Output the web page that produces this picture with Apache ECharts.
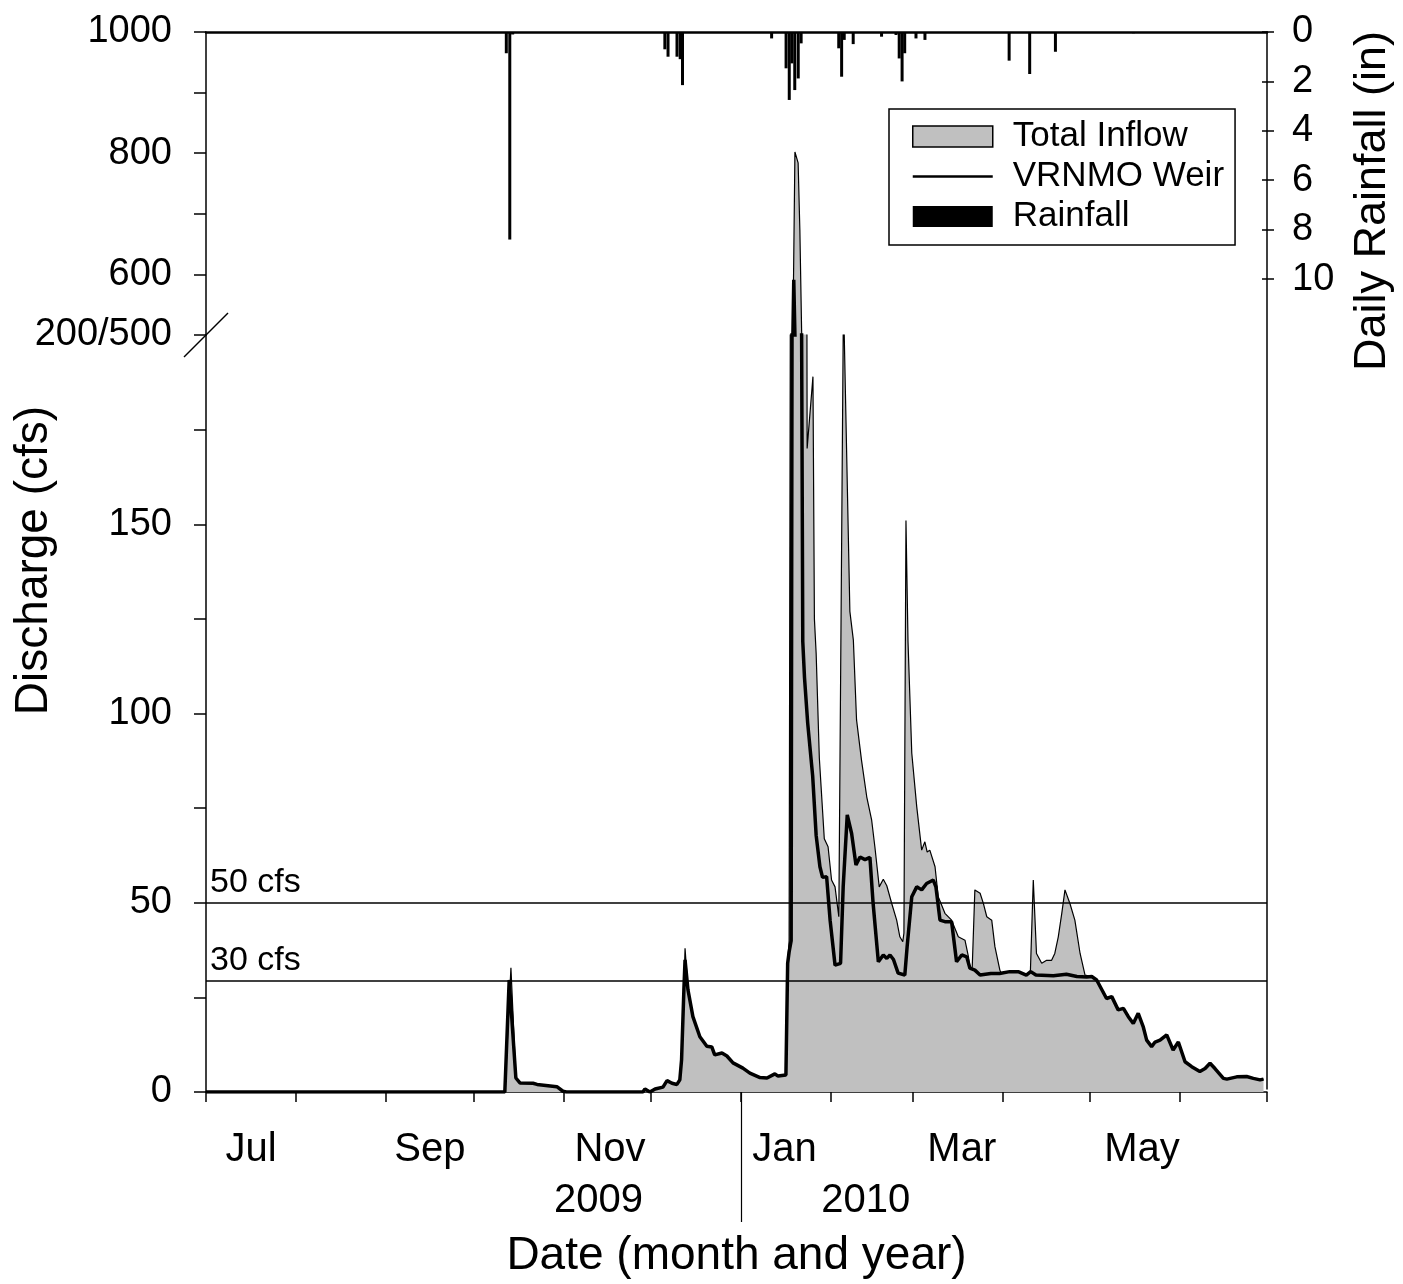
<!DOCTYPE html>
<html><head><meta charset="utf-8">
<script src="https://cdn.jsdelivr.net/npm/echarts@6/dist/echarts.min.js"></script>
<style>html,body{margin:0;padding:0;background:#fff}#c{width:1403px;height:1284px}</style>
</head><body><div id="c"></div>
<script>
// x values are days since 2009-07-01
const monthTickDays = [0,31,62,92,123,153,184,215,243,274,304,335,365];
const monthLabels = ['Jul','Sep','Nov','Jan','Mar','May'];
const monthLabelDays = [15.5,77,139,199,260,322];
const yearLabels = ['2009','2010'];
const yearLabelDays = [135,227];
const yearSplitDays = [184];
const rainTicks = [0,2,4,6,8,10];
const refLines = [50, 29.4];
const refLabels = ['50 cfs','30 cfs'];

const totalInflow = [
[0,0],[102.8,0],[104.9,32.8],[106.6,3.7],[108,2.4],[112.5,2.3],[113.9,2.0],[120.7,1.4],[122.8,0.2],[124,0],
[150.3,0],[151,0.8],[152.7,0],[154.5,0.8],[157.2,1.3],[158.6,3],[160.3,2.3],[162,2],[163,3.2],[163.6,8.5],[164.4,27],[164.8,38],
[165.8,27],[167.5,19.9],[169.9,14.6],[172.3,12.1],[174,11.9],[175,9.8],[177.5,10.3],[179.2,9.5],[181.3,7.7],[184.7,6.3],
[187.1,5],[190.6,3.8],[193,3.7],[195.7,4.8],[196.8,4.2],[199.5,4.5],
[200.1,34],[200.6,40],[201.0,200],[201.9,500],[202.6,802],[203.7,784],[204.3,673],[204.9,508],[205.8,350],[206.6,260],
[206.8,170],[208.8,189],[209.3,125],[209.9,115.9],[211,88.2],[212.7,66.9],[214,64.8],[215.2,56],[216.4,54.2],[217.7,46.3],[218.3,46.3],
[219.3,210],[221.5,127],[222.7,119.4],[223.8,98.3],[225.5,87.7],[227.3,78],[229,71.8],[230.1,64.8],[231.6,54.2],[233,56.2],
[234.2,54.5],[235.9,49.8],[237.6,45.4],[238.7,41],[239.7,39.7],[240.1,42],[240.8,151],[241.5,119],[242.8,89.5],[244.5,75.4],
[246.2,63.9],[247.3,66.1],[248.1,63.4],[249,63.9],[250.8,59.5],[251.9,51.6],[254.2,47.2],[256.5,45.4],[258.8,41],[261.1,40.1],
[262.3,35.7],[262.8,32.7],[263.6,33],[264.5,53.4],[266.3,52.5],[267.4,49.9],[268.6,46.3],[270.3,45.4],[271.4,38.4],[273.1,32.2],
[273.6,31.3],[276.5,31.8],[279.4,31.8],[282.2,30.9],[283.6,31.8],[284.6,56],[285.7,36.6],[287.5,34],[289.2,34.8],[290.9,34.8],
[292,36.6],[293.2,41],[294.4,47.2],[295.5,53.4],[297.2,49.8],[298.9,45.4],[300.7,36.6],[302.4,30.9],[303,30.4],[304.7,30.5],
[306.4,29.6],[309.8,24.7],[311.6,25.2],[313.8,21.7],[315.6,22.1],[317.3,19.9],[319,18.1],[320.7,20.8],[322.4,17.3],[323.6,13.7],
[325.3,12],[326.5,13.2],[328.2,13.7],[330.5,15.1],[332.7,11.1],[334.5,13.2],[336.8,8],[339.1,6.7],[341.9,5.4],[343.7,6.2],
[345.4,7.6],[347.1,6.2],[350,3.6],[351.2,3.4],[354.6,4],[358,4.1],[360.3,3.6],[362.6,3.2],[363.8,3.4]
];

const vrnmoWeir = [
[0,0],[102.8,0],[104.3,29.6],[106.6,3.7],[108,2.4],[112.5,2.3],[113.9,2.0],[120.7,1.4],[122.8,0.2],[124,0],
[150.3,0],[151,0.8],[152.7,0],[154.5,0.8],[157.2,1.3],[158.6,3],[160.3,2.3],[162,2],[163,3.2],[163.6,8.5],[164.4,27],[164.8,34.9],
[165.8,27],[167.5,19.9],[169.9,14.6],[172.3,12.1],[174,11.9],[175,9.8],[177.5,10.3],[179.2,9.5],[181.3,7.7],[184.7,6.3],
[187.1,5],[190.6,3.8],[193,3.7],[195.7,4.8],[196.8,4.2],[199.5,4.5],
[200.1,34],[200.6,37],[201.3,40],[201.6,200],[201.9,500],[202.2,591],[202.6,500],[204.9,200],[205.3,119],[205.9,109.4],
[207,97.4],[208.7,83.5],[209.9,67.8],[211.2,59.5],[212.1,56.7],[213.5,56.9],[214.7,45.4],[216.4,33.5],[218.3,34],[219.2,54.2],
[220.6,73.2],[222.1,68.3],[223.6,60],[225,62.1],[226.7,61.4],[228.4,62],[229.5,49.8],[231.3,34.4],[233,36.2],[234.2,35.3],
[235.3,36.2],[236.5,35],[238.1,31.4],[240.4,30.9],[241.2,38.4],[242.8,51.6],[244.5,54.2],[246.2,53.4],[247.9,55.1],[250.2,56],
[251.1,54.2],[252.5,45.4],[254.2,45],[256.5,45],[258.2,34.4],[260,36.2],[261.7,35.7],[262.8,32.7],[264.5,32.2],[266.3,30.9],
[270,31.3],[273,31.3],[276.5,31.8],[279.4,31.8],[282.2,30.9],[283.7,31.8],[285.5,30.9],[291.5,30.7],[296,31.1],[299.6,30.5],
[303,30.4],[304.7,30.5],[306.4,29.6],[309.8,24.7],[311.6,25.2],[313.8,21.7],[315.6,22.1],[317.3,19.9],[319,18.1],[320.7,20.8],
[322.4,17.3],[323.6,13.7],[325.3,12],[326.5,13.2],[328.2,13.7],[330.5,15.1],[332.7,11.1],[334.5,13.2],[336.8,8],[339.1,6.7],
[341.9,5.4],[343.7,6.2],[345.4,7.6],[347.1,6.2],[350,3.6],[351.2,3.4],[354.6,4],[358,4.1],[360.3,3.6],[362.6,3.2],[363.8,3.4]
];

const rainDays = [103.8,105,106,158.6,159.7,162.8,163.9,164.7,195.5,200.5,201.6,202.5,203.5,204.7,205.7,218.7,219.7,220.6,223.7,233.5,238.5,239.6,240.6,241.5,245.4,248.5,277.6,284.7,293.6,320.6];
const rainInches = [0.86,8.4,0.1,0.7,1.0,1.0,1.1,2.15,0.26,1.47,2.75,1.27,2.35,1.88,0.46,0.66,1.81,0.32,0.49,0.19,0.12,1.07,2.0,0.86,0.26,0.32,1.16,1.7,0.8,0.05];

const FONT = "'Liberation Sans', Arial, sans-serif";
const rainfall = rainDays.map((d,i)=>[d, rainInches[i]]);

const chart = echarts.init(document.getElementById('c'), null, {renderer:'canvas'});
const G = {left:206, width:1061};
const axisLineStyle = {color:'#000', width:1.5};
const hiddenX = (gi)=>({type:'value', gridIndex:gi, min:0, max:365, show:false});

const option = {
  backgroundColor:'#fff',
  animation:false,
  textStyle:{fontFamily:FONT, color:'#000'},
  grid:[
    {left:G.left, width:G.width, top:32, height:303},
    {left:G.left, width:G.width, top:335, height:757},
    {left:G.left, width:G.width, top:32, height:338},
    {left:G.left, width:G.width, top:32, height:1060}
  ],
  legend:{
    orient:'vertical', left:889, top:109,
    padding:[10,11,11,23], itemWidth:80, itemHeight:21, itemGap:5,
    borderColor:'#000', borderWidth:1.5, backgroundColor:'#fff',
    selectedMode:false,
    textStyle:{fontFamily:FONT, fontSize:35, lineHeight:35, color:'#000', padding:[0,0,0,15]},
    data:[
      {name:'Total Inflow', icon:'rect', itemStyle:{color:'#c0c0c0', borderColor:'#000', borderWidth:1.5}},
      {name:'VRNMO Weir', icon:'path://M0,0H80V2.6H0Z', itemStyle:{color:'#000', borderWidth:0}},
      {name:'Rainfall', icon:'rect', itemStyle:{color:'#000', borderWidth:0}}
    ]
  },
  xAxis:[
    hiddenX(0),
    {type:'value', gridIndex:1, min:0, max:365, position:'bottom',
      axisLine:{show:true, onZero:false, lineStyle:axisLineStyle},
      axisTick:{show:true, customValues:monthTickDays, length:10, inside:false, lineStyle:{color:'#000', width:1.5}},
      axisLabel:{show:true, customValues:monthLabelDays, margin:38, fontSize:40, fontFamily:FONT, color:'#000',
        formatter:(v)=>{const i=monthLabelDays.indexOf(v); return i>=0?monthLabels[i]:'';}},
      splitLine:{show:false}},
    {type:'value', gridIndex:1, min:0, max:365, position:'bottom', offset:0,
      axisLine:{show:false, onZero:false},
      axisTick:{show:true, customValues:yearSplitDays, length:130, inside:false, lineStyle:{color:'#000', width:1.2}},
      axisLabel:{show:true, customValues:yearLabelDays, margin:89, fontSize:40, fontFamily:FONT, color:'#000',
        formatter:(v)=>{const i=yearLabelDays.indexOf(v); return i>=0?yearLabels[i]:'';}},
      splitLine:{show:false}},
    hiddenX(2),
    {type:'value', gridIndex:3, min:0, max:365, position:'top',
      axisLine:{show:true, onZero:false, lineStyle:{color:'#000', width:2.5}}, axisTick:{show:false}, axisLabel:{show:false}, splitLine:{show:false}},
    {type:'value', gridIndex:3, min:0, max:365, position:'bottom',
      name:'Date (month and year)', nameLocation:'middle', nameGap:144,
      nameTextStyle:{fontSize:46, fontFamily:FONT, color:'#000'},
      axisLine:{show:false, onZero:false}, axisTick:{show:false}, axisLabel:{show:false}, splitLine:{show:false}}
  ],
  yAxis:[
    {type:'value', gridIndex:0, min:500, max:1000, interval:100, position:'left',
      axisLine:{show:true, onZero:false, lineStyle:axisLineStyle},
      axisTick:{show:true, length:12, lineStyle:{color:'#000', width:1.5}},
      axisLabel:{margin:34, fontSize:38, fontFamily:FONT, color:'#000',
        formatter:(v)=> (v!==500 && v%200===0) ? String(v) : ''},
      splitLine:{show:false}},
    {type:'value', gridIndex:1, min:0, max:200, interval:25, position:'left',
      axisLine:{show:true, onZero:false, lineStyle:axisLineStyle},
      axisTick:{show:true, length:12, lineStyle:{color:'#000', width:1.5}},
      axisLabel:{margin:34, fontSize:38, fontFamily:FONT, color:'#000',
        formatter:(v)=> v===200 ? '200/500' : (v%50===0 ? String(v) : '')},
      splitLine:{show:false}},
    {type:'value', gridIndex:2, min:0, max:13.68, inverse:true, position:'right',
      name:'Daily Rainfall (in)', nameLocation:'middle', nameGap:88, nameRotate:90,
      nameTextStyle:{fontSize:45, fontFamily:FONT, color:'#000'},
      axisLine:{show:false, onZero:false},
      axisTick:{show:true, customValues:rainTicks, length:12, lineStyle:{color:'#000', width:1.5}},
      axisLabel:{show:true, customValues:rainTicks, margin:30, fontSize:38, fontFamily:FONT, color:'#000'},
      splitLine:{show:false}},
    {type:'value', gridIndex:3, min:0, max:1, position:'left',
      name:'Discharge (cfs)', nameLocation:'middle', nameGap:149,
      nameTextStyle:{fontSize:46, fontFamily:FONT, color:'#000'},
      axisLine:{show:false, onZero:false}, axisTick:{show:false}, axisLabel:{show:false}, splitLine:{show:false}},
    {type:'value', gridIndex:3, min:0, max:1, position:'right',
      axisLine:{show:true, onZero:false, lineStyle:axisLineStyle}, axisTick:{show:false}, axisLabel:{show:false}, splitLine:{show:false}}
  ],
  series:[
    {name:'Total Inflow', type:'line', xAxisIndex:1, yAxisIndex:1, data:totalInflow, symbol:'none', clip:true, z:2,
      lineStyle:{color:'#000', width:1.2}, itemStyle:{color:'#c0c0c0'},
      areaStyle:{color:'#c0c0c0', opacity:1}},
    {name:'VRNMO Weir', type:'line', xAxisIndex:1, yAxisIndex:1, data:vrnmoWeir, symbol:'none', clip:true, z:4,
      lineStyle:{color:'#000', width:3.5}, itemStyle:{color:'#000'},
      markLine:{silent:true, symbol:'none', z:3,
        lineStyle:{color:'#000', width:1.5, type:'solid'},
        label:{show:true, position:'insideStartTop', fontSize:34, fontFamily:FONT, color:'#000', distance:[4,3],
          formatter:(p)=>refLabels[refLines.indexOf(p.value)]},
        data:refLines.map(v=>({yAxis:v}))}},
    // upper panel: area only (no stroke, so the clip is not widened), then the outline
    {name:'Total Inflow', type:'line', xAxisIndex:0, yAxisIndex:0, data:totalInflow, symbol:'none', clip:true, z:2,
      lineStyle:{width:0}, itemStyle:{color:'#c0c0c0'},
      areaStyle:{color:'#c0c0c0', opacity:1, origin:'start'}},
    {name:'Total Inflow', type:'line', xAxisIndex:0, yAxisIndex:0, data:totalInflow, symbol:'none', clip:true, z:3,
      lineStyle:{color:'#000', width:1.2}, itemStyle:{color:'#c0c0c0'}},
    {name:'VRNMO Weir', type:'line', xAxisIndex:0, yAxisIndex:0, data:vrnmoWeir, symbol:'none', clip:true, z:4,
      lineStyle:{color:'#000', width:3.5}, itemStyle:{color:'#000'}},
    {name:'Rainfall', type:'bar', xAxisIndex:3, yAxisIndex:2, data:rainfall, barWidth:3, z:5,
      itemStyle:{color:'#000'}}
  ]
};
chart.setOption(option);

// axis break decorations positioned from the scales
const pBreak = chart.convertToPixel({xAxisIndex:1, yAxisIndex:1}, [0, 200]);
const pRainGap = chart.convertToPixel({xAxisIndex:3, yAxisIndex:2}, [365, 6.6]);
chart.setOption({graphic:[
  {type:'line', shape:{x1:pBreak[0]-22, y1:pBreak[1]+22, x2:pBreak[0]+22, y2:pBreak[1]-22},
    style:{stroke:'#000', lineWidth:1.5}, z:100},
  {type:'rect', shape:{x:pRainGap[0]-3, y:pRainGap[1]-2.5, width:6, height:5},
    style:{fill:'#fff'}, z:100}
]});
</script></body></html>
